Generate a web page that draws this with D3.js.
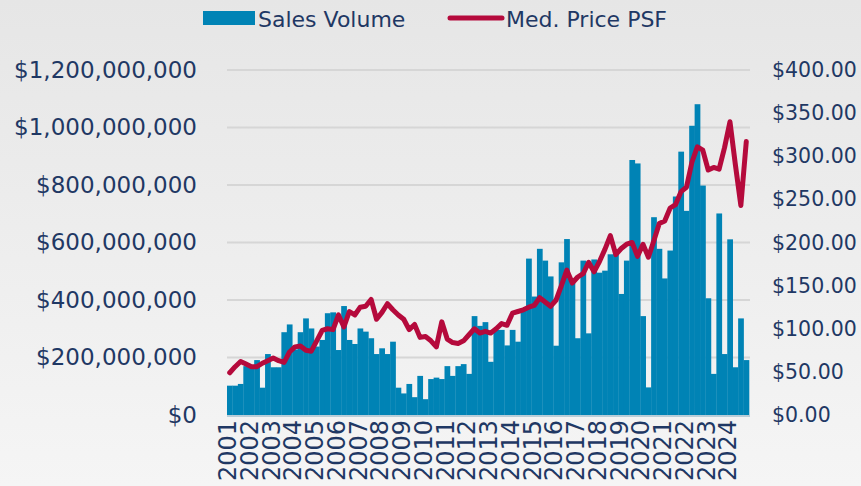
<!DOCTYPE html>
<html>
<head>
<meta charset="utf-8">
<script src="https://cdn.jsdelivr.net/npm/d3@7"></script>
<style>
    html, body { margin: 0; padding: 0; background: #eeeeee; }
    #draw { width: 861px; height: 486px; }
</style>
</head>
<body>
<div id="draw"></div>
<script>
// years on the axis, one label per year (Q1)
var years = ["2001","2002","2003","2004","2005","2006","2007","2008","2009","2010","2011","2012",
    "2013","2014","2015","2016","2017","2018","2019","2020","2021","2022","2023","2024"];

// quarterly sales volume, in millions of dollars
var salesVolume = [
    102, 102, 108, 170,   172, 191, 95, 212,    166, 166, 288, 315,   228, 288, 336, 301,
    238, 261, 354, 357,   226, 379, 261, 247,   301, 290, 267, 212,   232, 212, 255, 95,
    75, 108, 62, 136,     55, 125, 130, 125,    170, 136, 170, 177,   143, 344, 310, 323,
    185, 296, 296, 242,   296, 255, 370, 544,   412, 578, 537, 482,   241, 531, 612, 465,
    267, 537, 284, 541,   495, 502, 559, 560,   421, 537, 887, 875,   344, 96, 688, 578,
    475, 572, 760, 916,   710, 1006, 1081, 798, 406, 143, 701, 212,   611, 166, 336, 191
];

// quarterly median price per square foot
var medPricePSF = [
    49, 56, 62, 59,       56, 56, 60, 63,       66, 63, 61, 73,       79, 80, 75, 74,
    86, 98, 100, 99,      116, 102, 120, 116,   125, 126, 134, 111,   119, 129, 122, 116,
    111, 99, 105, 90,     91, 86, 79, 108,      88, 84, 83, 86,       93, 100, 95, 97,
    95, 100, 106, 104,    118, 120, 122, 125,   127, 136, 131, 126,   133, 150, 168, 153,
    160, 164, 177, 166,   178, 192, 208, 186,   193, 198, 200, 184,   198, 183, 202, 222,
    225, 240, 244, 259,   264, 293, 311, 307,   284, 287, 285, 310,   340, 290, 243, 317
];

var leftTicks = [0, 200, 400, 600, 800, 1000, 1200];
var rightTicks = [0, 50, 100, 150, 200, 250, 300, 350, 400];
var seriesNames = ["Sales Volume", "Med. Price PSF"];

var w = 861, h = 486;
var plotL = 227, plotR = 749, plotT = 70, plotB = 415;
var textColor = "#1f3864";
var barColor = "#0083b5";
var lineColor = "#b50a3c";
var font = "DejaVu Sans, sans-serif";

// quarter keys
var quarters = [];
years.forEach(function (y) {
    for (var q = 1; q <= 4; q++) quarters.push(y + "Q" + q);
});

var svg = d3.select("#draw")
    .append("svg")
    .attr("width", w)
    .attr("height", h);

// background gradient
var grad = svg.append("defs").append("linearGradient")
    .attr("id", "bg")
    .attr("x1", 0).attr("y1", 0).attr("x2", 0).attr("y2", 1);
grad.append("stop").attr("offset", "0%").attr("stop-color", "#e6e6e6");
grad.append("stop").attr("offset", "100%").attr("stop-color", "#f5f5f5");
svg.append("rect")
    .attr("width", w).attr("height", h)
    .attr("fill", "url(#bg)");

// scales
var x = d3.scaleBand().domain(quarters).range([plotL, plotR]).padding(0);
var yL = d3.scaleLinear().domain([0, 1200]).range([plotB, plotT]);
var yR = d3.scaleLinear().domain([0, 400]).range([plotB, plotT]);

// gridlines
svg.append("g")
    .selectAll("line")
    .data(leftTicks.slice(1))
    .enter()
    .append("line")
    .attr("x1", plotL).attr("x2", plotR + 1)
    .attr("y1", function (d) { return yL(d); })
    .attr("y2", function (d) { return yL(d); })
    .attr("stroke", "#d6d6d6")
    .attr("stroke-width", 2);

// bars
svg.append("g")
    .selectAll("rect")
    .data(salesVolume)
    .enter()
    .append("rect")
    .attr("x", function (d, i) { return x(quarters[i]); })
    .attr("y", function (d) { return yL(d); })
    .attr("width", x.bandwidth() + 0.3)
    .attr("height", function (d) { return plotB - yL(d); })
    .attr("fill", barColor);

// baseline
svg.append("line")
    .attr("x1", plotL).attr("x2", plotR + 1)
    .attr("y1", plotB + 1).attr("y2", plotB + 1)
    .attr("stroke", "#b9cdd8")
    .attr("stroke-width", 2);

// price line
var line = d3.line()
    .x(function (d, i) { return x(quarters[i]) + x.bandwidth() / 2; })
    .y(function (d) { return yR(d); });
svg.append("path")
    .datum(medPricePSF)
    .attr("d", line)
    .attr("fill", "none")
    .attr("stroke", lineColor)
    .attr("stroke-width", 5)
    .attr("stroke-linejoin", "round")
    .attr("stroke-linecap", "round");

// left axis
var fmtL = function (d) { return d === 0 ? "$0" : "$" + d3.format(",")(d * 1000000); };
var axL = svg.append("g")
    .attr("transform", "translate(197,0)")
    .call(d3.axisLeft(yL).tickValues(leftTicks).tickFormat(fmtL).tickSize(0).tickPadding(0));
axL.select(".domain").remove();
axL.selectAll("text")
    .attr("fill", textColor)
    .attr("font-family", font)
    .attr("font-size", "23px");

// right axis
var axR = svg.append("g")
    .attr("transform", "translate(772,0)")
    .call(d3.axisRight(yR).tickValues(rightTicks).tickFormat(function (d) { return "$" + d3.format(".2f")(d); })
        .tickSize(0).tickPadding(0));
axR.select(".domain").remove();
axR.selectAll("text")
    .attr("fill", textColor)
    .attr("font-family", font)
    .attr("font-size", "20.5px");

// year labels, rotated
svg.append("g")
    .selectAll("text")
    .data(years)
    .enter()
    .append("text")
    .text(function (d) { return d; })
    .attr("transform", function (d) {
        var cx = x(d + "Q1") + 0.5;
        return "translate(" + cx + ",420) rotate(-90)";
    })
    .attr("text-anchor", "end")
    .attr("dy", "0.36em")
    .attr("fill", textColor)
    .attr("font-family", font)
    .attr("font-size", "24px");

// legend
var legend = svg.append("g");
legend.append("rect")
    .attr("x", 203).attr("y", 11)
    .attr("width", 52).attr("height", 14)
    .attr("fill", barColor);
legend.append("text")
    .text(seriesNames[0])
    .attr("x", 258).attr("y", 27)
    .attr("fill", textColor)
    .attr("font-family", font)
    .attr("font-size", "22px");
legend.append("line")
    .attr("x1", 450).attr("x2", 502)
    .attr("y1", 18).attr("y2", 18)
    .attr("stroke", lineColor)
    .attr("stroke-width", 5)
    .attr("stroke-linecap", "round");
legend.append("text")
    .text(seriesNames[1])
    .attr("x", 506).attr("y", 27)
    .attr("fill", textColor)
    .attr("font-family", font)
    .attr("font-size", "22px");
</script>
</body>
</html>
